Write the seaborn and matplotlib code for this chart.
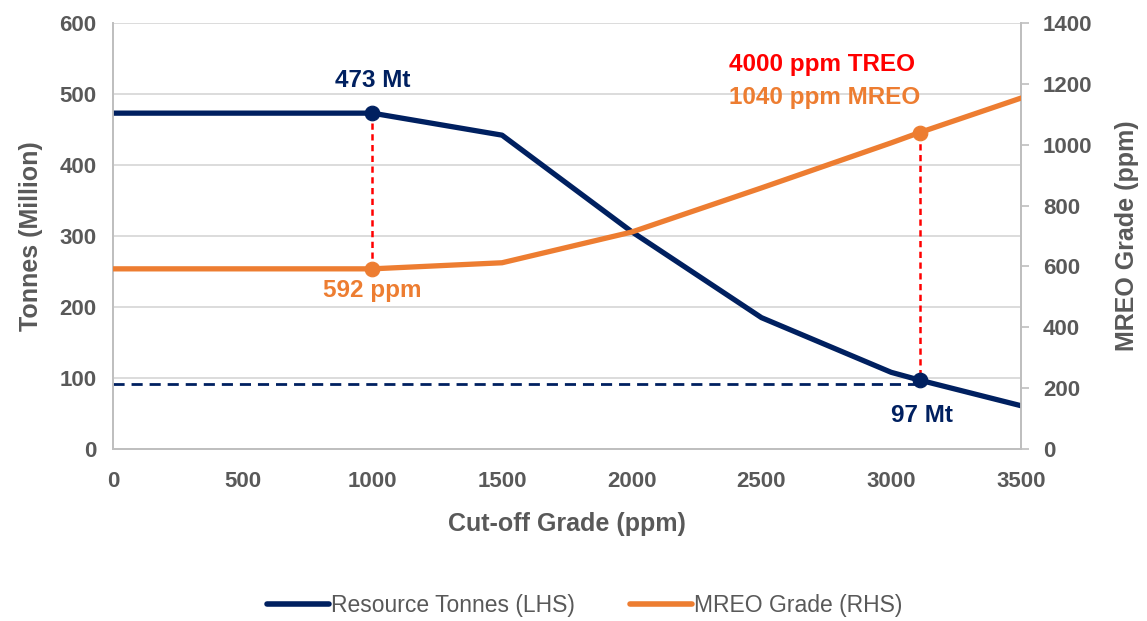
import matplotlib
matplotlib.use("Agg")
import matplotlib.pyplot as plt
import seaborn as sns
import pandas as pd
from matplotlib.lines import Line2D

# Cut-off grade sensitivity data
cutoff_ppm = [0, 1000, 1500, 2000, 2500, 3000, 3110, 3500]
tonnes_mt = [473, 473, 442, 306, 185, 108, 97, 61]
mreo_ppm = [592, 592, 612, 713, 858, 1006, 1040, 1153]

# Highlighted cut-off cases
base_cutoff = 1000
base_tonnes = 473
base_mreo = 592
sel_cutoff = 3110
sel_tonnes = 97
sel_mreo = 1040
sel_treo = 4000
ref_tonnes = 91

x_ticks = [0, 500, 1000, 1500, 2000, 2500, 3000, 3500]
left_ticks = [0, 100, 200, 300, 400, 500, 600]
right_ticks = [0, 200, 400, 600, 800, 1000, 1200, 1400]

NAVY = "#002060"
ORANGE = "#ED7D31"
RED = "#FF0000"
GREY = "#595959"
GRID = "#D9D9D9"

sns.set_theme(style="white")
plt.rcParams["font.family"] = ["Liberation Sans", "DejaVu Sans"]

df = pd.DataFrame({"cutoff": cutoff_ppm, "tonnes": tonnes_mt, "mreo": mreo_ppm})

fig = plt.figure(figsize=(11.47, 6.21), dpi=100)
ax = fig.add_axes([0.0985, 0.277, 0.7915, 0.686])
ax2 = ax.twinx()

# gridlines from the tonnes axis
ax.set_axisbelow(True)
ax.yaxis.grid(True, color=GRID, linewidth=1.3)
ax.xaxis.grid(False)

sns.lineplot(data=df, x="cutoff", y="tonnes", ax=ax, color=NAVY, linewidth=3.8,
             solid_capstyle="round", zorder=4)
sns.lineplot(data=df, x="cutoff", y="mreo", ax=ax2, color=ORANGE, linewidth=3.8,
             solid_capstyle="round", zorder=4)

# reference tonnage line
ax.plot([0, sel_cutoff], [ref_tonnes, ref_tonnes], color=NAVY, linewidth=2,
        linestyle=(0, (4, 2.5)), zorder=3)

# red drop lines between the two series at the highlighted cut-offs
ax2_to_ax = lambda v: v * 600 / 1400
ax.plot([base_cutoff, base_cutoff], [ax2_to_ax(base_mreo), base_tonnes], color=RED,
        linewidth=1.8, linestyle=(0, (2.5, 1.8)), zorder=3)
ax.plot([sel_cutoff, sel_cutoff], [ax2_to_ax(sel_mreo), sel_tonnes], color=RED,
        linewidth=1.8, linestyle=(0, (2.5, 1.8)), zorder=3)

# point markers
sns.scatterplot(x=[base_cutoff, sel_cutoff], y=[base_tonnes, sel_tonnes], ax=ax,
                color=NAVY, s=110, edgecolor=NAVY, zorder=6)
sns.scatterplot(x=[base_cutoff, sel_cutoff], y=[base_mreo, sel_mreo], ax=ax2,
                color=ORANGE, s=110, edgecolor=ORANGE, zorder=6)
ax2.set_zorder(ax.get_zorder() + 1)
ax2.patch.set_visible(False)

# value labels
lab_kw = dict(fontsize=17.5, fontweight="bold", ha="center", va="center")
ax.text(base_cutoff, base_tonnes + 46, f"{base_tonnes} Mt", color=NAVY, **lab_kw)
ax2.text(base_cutoff, base_mreo - 70, f"{base_mreo} ppm", color=ORANGE, **lab_kw)
ax2.text(sel_cutoff - 375, sel_mreo + 225, f"{sel_treo} ppm TREO", color=RED, **lab_kw)
ax2.text(sel_cutoff - 365, sel_mreo + 115, f"{sel_mreo} ppm MREO", color=ORANGE, **lab_kw)
ax.text(sel_cutoff + 10, sel_tonnes - 50, f"{sel_tonnes} Mt", color=NAVY, **lab_kw)

# axes limits and ticks
ax.set_xlim(0, 3500)
ax.set_ylim(0, 600)
ax2.set_ylim(0, 1400)
ax.set_xticks(x_ticks)
ax.set_yticks(left_ticks)
ax2.set_yticks(right_ticks)

tick_font = dict(fontsize=16, fontweight="bold", color=GREY)
ax.set_xticklabels([str(v) for v in x_ticks], **tick_font)
ax.set_yticklabels([str(v) for v in left_ticks], **tick_font)
ax2.set_yticklabels([str(v) for v in right_ticks], **tick_font)
ax.tick_params(axis="x", length=0, pad=16)
ax.tick_params(axis="y", length=0, pad=12)
ax2.tick_params(axis="y", length=6, width=1.2, color="#BFBFBF", direction="out", pad=10)

label_font = dict(fontsize=18, fontweight="bold", color=GREY)
ax.set_xlabel("Cut-off Grade (ppm)", labelpad=14, **label_font)
ax.set_ylabel("Tonnes (Million)", labelpad=12, **label_font)
ax2.set_ylabel("MREO Grade (ppm)", labelpad=16, **label_font)

for a in (ax, ax2):
    a.spines["top"].set_visible(False)
    for side in ("left", "right", "bottom"):
        a.spines[side].set_color("#BFBFBF")
        a.spines[side].set_linewidth(1.3)

# legend below the plot
handles = [
    Line2D([0], [0], color=NAVY, linewidth=4, solid_capstyle="round"),
    Line2D([0], [0], color=ORANGE, linewidth=4, solid_capstyle="round"),
]
fig.legend(handles, ["Resource Tonnes (LHS)", "MREO Grade (RHS)"],
           loc="center", bbox_to_anchor=(0.51, 0.025), ncol=2, frameon=False,
           handlelength=2.7, handletextpad=0.1, columnspacing=2.4,
           prop={"family": ["Liberation Sans Narrow", "Liberation Sans"], "size": 16.5},
           labelcolor=GREY)

fig.savefig("out.png", dpi=100)
